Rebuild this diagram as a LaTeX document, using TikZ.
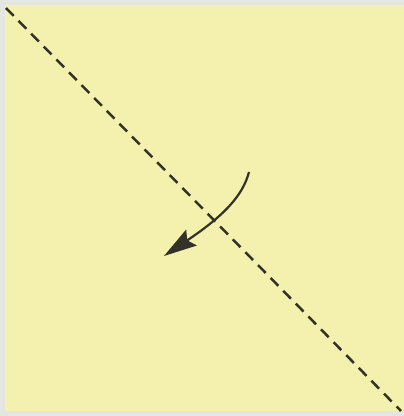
\documentclass[tikz,border=0pt]{standalone}
\usetikzlibrary{arrows.meta}
\definecolor{paper}{RGB}{244,241,174}
\definecolor{edge}{RGB}{228,230,226}
\definecolor{ink}{RGB}{50,50,40}
\begin{document}
\begin{tikzpicture}[x=1pt,y=-1pt,
  foldline/.style={ink,line width=2.5pt,dash pattern=on 11pt off 7pt},
  turnarrow/.style={ink,line width=2.2pt,-{Stealth[length=33pt,width=19pt,inset=5pt]}}]
\useasboundingbox (0,0) rectangle (404,416);
\fill[edge] (0,0) rectangle (404,416);
\fill[paper] (5,5) rectangle (404,411);
\coordinate (tl) at (6,8);
\coordinate (br) at (401,411);
\draw[foldline] (tl) -- (br);
\coordinate (s) at (249,172);
\coordinate (t) at (164,256);
\draw[turnarrow] (s) .. controls (243,195) and (225,215) .. (t);
\end{tikzpicture}
\end{document}
